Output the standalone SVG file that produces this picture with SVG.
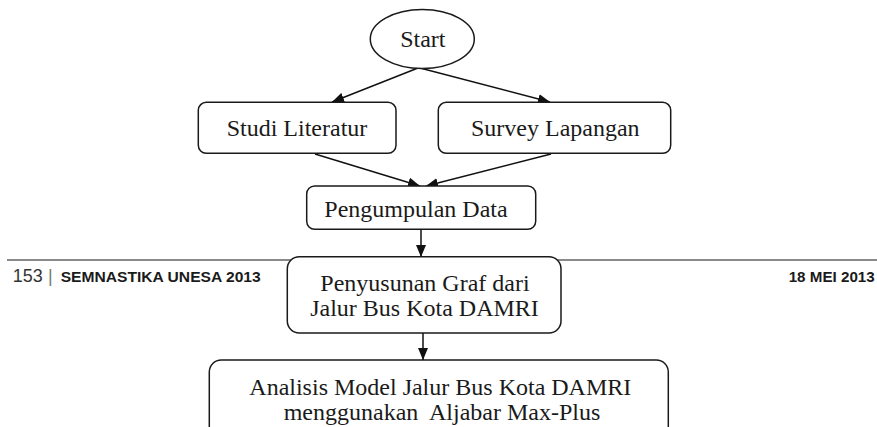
<svg xmlns="http://www.w3.org/2000/svg" width="877" height="427" viewBox="0 0 877 427">
  <style>
    .box { fill: #ffffff; stroke: #1a1a1a; stroke-width: 1.5; }
    .lbl { font-family: "Liberation Serif", "Times New Roman", serif; font-size: 24px; fill: #1a1a1a; text-anchor: middle; }
    .conn { stroke: #111111; stroke-width: 1.5; fill: none; marker-end: url(#arrow); }
    .rule { stroke: #8a8a8a; stroke-width: 2; }
    .hdr { font-family: "Liberation Sans", Arial, sans-serif; font-weight: bold; font-size: 14px; fill: #1a1a1a; }
    .pg { font-family: "Liberation Sans", Arial, sans-serif; font-size: 18px; fill: #333333; }
  </style>
  <defs>
    <marker id="arrow" markerUnits="userSpaceOnUse" markerWidth="12" markerHeight="10" refX="12" refY="5" orient="auto">
      <path d="M0,0 L12,5 L0,10 Z" fill="#111111"/>
    </marker>
  </defs>
  <rect width="877" height="427" fill="#ffffff"/>

  <g id="page-header">
    <line class="rule" x1="7" y1="260" x2="877" y2="260"/>
    <text class="pg" x="12.7" y="281.7" textLength="30" lengthAdjust="spacingAndGlyphs">153</text>
    <text class="pg" x="48" y="281.7" fill="#666666" style="fill:#777777">|</text>
    <text class="hdr" x="60.7" y="281.7" textLength="200" lengthAdjust="spacingAndGlyphs">SEMNASTIKA UNESA 2013</text>
    <text class="hdr" x="788.7" y="281.7" textLength="86" lengthAdjust="spacingAndGlyphs">18 MEI 2013</text>
  </g>

  <g id="connectors">
    <line class="conn" x1="418" y1="68" x2="332" y2="102"/>
    <line class="conn" x1="420" y1="68" x2="550" y2="102"/>
    <line class="conn" x1="315" y1="154" x2="420" y2="186"/>
    <line class="conn" x1="551" y1="154" x2="426" y2="186"/>
    <line class="conn" x1="421" y1="229" x2="421" y2="257"/>
    <line class="conn" x1="423" y1="333" x2="423" y2="360"/>
  </g>

  <g id="start">
    <ellipse class="box" cx="422.3" cy="39" rx="52" ry="29.5"/>
    <text class="lbl" x="422.8" y="47.3">Start</text>
  </g>

  <g id="studi-literatur">
    <rect class="box" x="198.3" y="102.3" width="197.7" height="51" rx="8"/>
    <text class="lbl" x="297" y="135.7">Studi Literatur</text>
  </g>

  <g id="survey-lapangan">
    <rect class="box" x="438.3" y="102.3" width="232.4" height="51" rx="8"/>
    <text class="lbl" x="555.3" y="135.7">Survey Lapangan</text>
  </g>

  <g id="pengumpulan-data">
    <rect class="box" x="306.7" y="186" width="229" height="43.3" rx="8"/>
    <text class="lbl" x="416" y="216.7">Pengumpulan Data</text>
  </g>

  <g id="penyusunan-graf">
    <rect class="box" x="287.3" y="256.7" width="273.7" height="76.3" rx="12"/>
    <text class="lbl" x="425" y="291.3">Penyusunan Graf dari</text>
    <text class="lbl" x="424.5" y="316.3">Jalur Bus Kota DAMRI</text>
  </g>

  <g id="analisis-model">
    <rect class="box" x="209.3" y="360" width="459" height="90" rx="12"/>
    <text class="lbl" x="440.3" y="395">Analisis Model Jalur Bus Kota DAMRI</text>
    <text class="lbl" x="442" y="420" xml:space="preserve">menggunakan  Aljabar Max-Plus</text>
  </g>
</svg>
